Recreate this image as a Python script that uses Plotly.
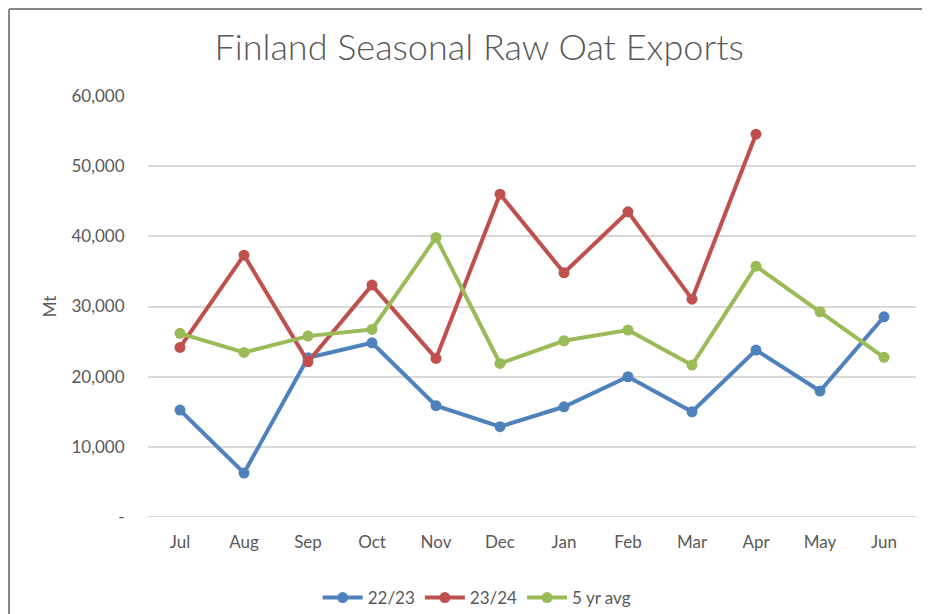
import plotly.graph_objects as go

months = ["Jul", "Aug", "Sep", "Oct", "Nov", "Dec", "Jan", "Feb", "Mar", "Apr", "May", "Jun"]
s2223 = [15240, 6270, 22700, 24830, 15860, 12870, 15710, 19990, 15000, 23790, 17950, 28530]
s2324 = [24170, 37320, 22120, 33050, 22600, 46010, 34800, 43490, 31050, 54560, None, None]
avg5 = [26170, 23460, 25780, 26730, 39840, 21890, 25120, 26640, 21650, 35750, 29250, 22750]
ytickvals = [0, 10000, 20000, 30000, 40000, 50000, 60000]
yticktext = ["-", "10,000", "20,000", "30,000", "40,000", "50,000", "60,000"]

series = [("22/23", s2223, "#4F81BD"), ("23/24", s2324, "#C0504D"), ("5 yr avg", avg5, "#9BBB59")]

fig = go.Figure()
for name, vals, col in series:
    fig.add_trace(go.Scatter(x=months, y=vals, name=name, mode="lines+markers",
                             line=dict(color=col, width=4),
                             marker=dict(color=col, size=11),
                             cliponaxis=False))

FONT = "Lato, Open Sans, sans-serif"
W, H = 922, 606
fig.update_layout(
    width=W, height=H,
    margin=dict(l=140, r=14, t=88, b=97),
    paper_bgcolor="white", plot_bgcolor="white",
    font=dict(family=FONT, color="#595959", size=15),
    title=dict(text="Finland Seasonal Raw Oat Exports", x=0.511, xanchor="center",
               y=1 - 39 / H, yanchor="middle",
               font=dict(family=FONT, size=36, color="#595959", weight=300)),
    showlegend=True,
    legend=dict(orientation="h", x=0.428, xanchor="center",
                yref="container", y=(H - 590) / H, yanchor="middle",
                font=dict(size=17, color="#595959"), itemwidth=40, traceorder="normal"),
    xaxis=dict(showgrid=False, showline=False, zeroline=False, ticks="outside",
               ticklen=10, tickcolor="rgba(0,0,0,0)", tickfont=dict(size=17, color="#595959"),
               range=[-0.5, 11.5]),
    yaxis=dict(range=[0, 60000], tickvals=ytickvals, ticktext=yticktext,
               showgrid=True, gridcolor="#D9D9D9", gridwidth=2, zeroline=False, showline=False,
               ticks="outside", ticklen=19, tickcolor="rgba(0,0,0,0)",
               tickfont=dict(size=17, color="#595959"),
               title=dict(text="Mt", font=dict(size=17, color="#595959"), standoff=10)),
)
fig.add_shape(type="line", xref="paper", yref="paper", x0=-0.181, x1=1.02, y0=1.2067, y1=1.2067,
              line=dict(color="#878787", width=2))
fig.add_shape(type="line", xref="paper", yref="paper", x0=-0.181, x1=-0.181, y0=1.2067, y1=-0.3,
              line=dict(color="#878787", width=2))
fig.add_shape(type="line", xref="paper", yref="y", x0=0, x1=1, y0=0, y1=0,
              line=dict(color="#D9D9D9", width=2), layer="below")

fig.write_html("out.html")
